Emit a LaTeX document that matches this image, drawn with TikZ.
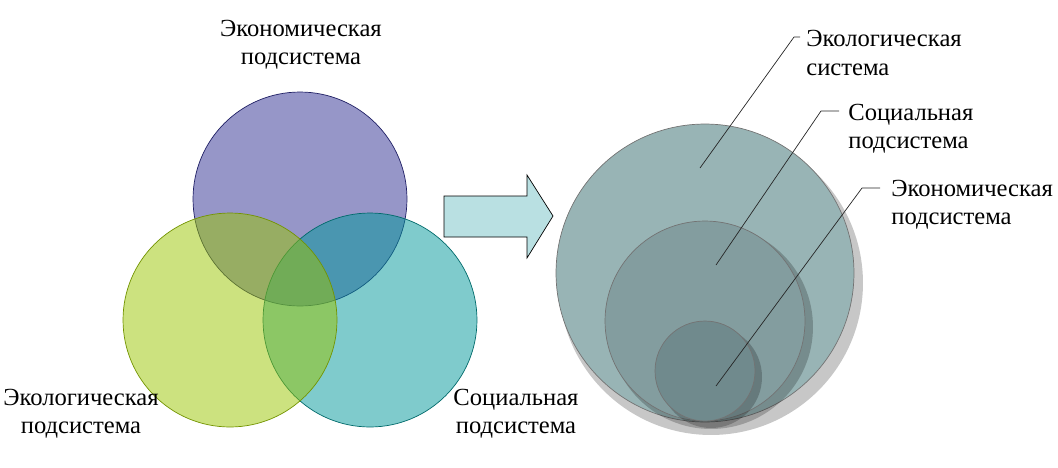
\documentclass[tikz,border=0pt]{standalone}
\usepackage{fontspec}
\setmainfont{Liberation Serif}
\usetikzlibrary{calc,positioning}

\definecolor{econ}{RGB}{45,45,145}
\definecolor{ecol}{RGB}{153,197,0}
\definecolor{soc}{RGB}{0,151,153}
\definecolor{arrowfill}{RGB}{185,224,226}
\definecolor{bigring}{RGB}{152,180,181}
\definecolor{midring}{RGB}{131,157,159}
\definecolor{smallring}{RGB}{112,138,141}

\begin{document}
\begin{tikzpicture}[x=0.02cm, y=-0.02cm, font=\rmfamily\fontsize{14}{16}\selectfont,
  venn/.style={circle, inner sep=0, minimum size=4.28cm, fill opacity=0.5},
  ring/.style={circle, draw=black!55, thin, inner sep=0},
  shade/.style={fill=black, opacity=0.22},
  lbl/.style={align=left, anchor=west, inner sep=0},
  leader/.style={draw=black!85, thin}]
\useasboundingbox (0,0) rectangle (1058,467);

% left: three subsystems
\node[venn, fill=econ, draw=econ!70!black] (econ) at (300,199) {};
\node[venn, fill=soc, draw=soc!70!black] (soc) at (370,320) {};
\node[venn, fill=ecol, draw=ecol!75!black] (ecol) at (230,320) {};

\node[align=center, inner sep=0] (econtxt) at (301,45) {Экономическая\\подсистема};
\node[align=center, inner sep=0] (ecoltxt) at (81,414) {Экологическая\\подсистема};
\node[align=center, inner sep=0] (soctxt) at (516,414) {Социальная\\подсистема};

% block arrow
\draw[fill=arrowfill, thin] (444,196) -- (527,196) -- (527,175) -- (553,216)
  -- (527,258) -- (527,237) -- (444,237) -- cycle;

% right: nested systems
\fill[shade] (711,283) circle[radius=3.04cm];
\node[ring, fill=bigring, minimum size=5.96cm] (big) at (705,273) {};
\fill[shade] (711,327) circle[radius=2.04cm];
\node[ring, fill=midring, minimum size=4cm] (mid) at (705,321) {};
\fill[shade] (711,377) circle[radius=1.02cm];
\node[ring, fill=smallring, minimum size=2cm] (small) at (705,371) {};

\node[lbl] (bigtxt) at (806,53) {Экологическая\\система};
\node[lbl] (midtxt) at (848,129) {Социальная\\подсистема};
\node[lbl] (smalltxt) at (891,205) {Экономическая\\подсистема};

\coordinate (e1) at (700,168);
\coordinate (k1) at (794,37);
\coordinate (e2) at (716,265);
\coordinate (k2) at (821,111);
\coordinate (e3) at (716,386);
\coordinate (k3) at (862,188);
\draw[leader] (e1) -- (k1) -- ++(6,0);
\draw[leader] (e2) -- (k2) -- ++(18,0);
\draw[leader] (e3) -- (k3) -- ++(18,0);
\end{tikzpicture}
\end{document}
